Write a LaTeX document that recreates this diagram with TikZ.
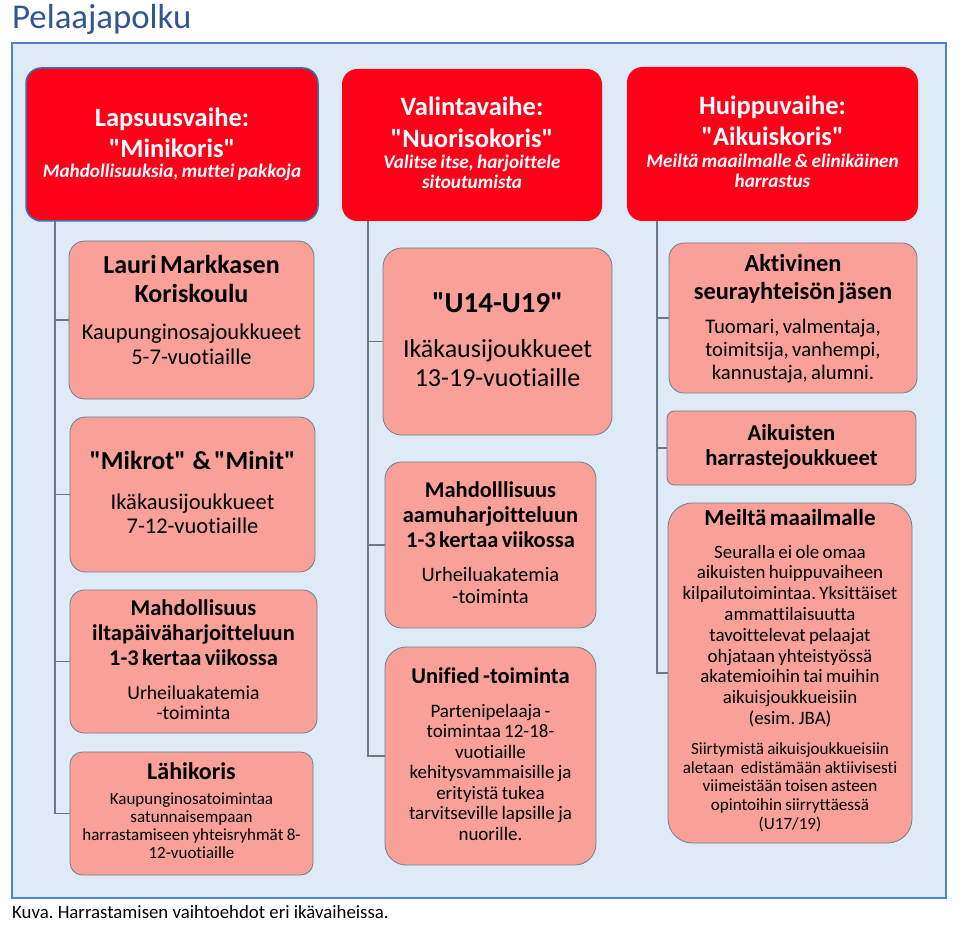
\documentclass[tikz,border=0pt]{standalone}
\usepackage{fontspec}
\setmainfont{Carlito}[Ligatures={TeXOff,NoCommon}]
\usetikzlibrary{fit}
\definecolor{framefill}{HTML}{DEEBF7}
\definecolor{frameline}{HTML}{4A86C8}
\definecolor{headred}{HTML}{FF0019}
\definecolor{headline}{HTML}{2E75B6}
\definecolor{salmon}{HTML}{F9A199}
\definecolor{boxline}{HTML}{6E7F90}
\definecolor{connline}{HTML}{6B7888}
\definecolor{titleblue}{HTML}{2F5597}
\lineskiplimit=-100pt
\frenchspacing
\newcommand\pfs[2]{\fontsize{#1}{#2}\selectfont}
\newcommand\pst[1]{\rule{0pt}{#1pt}}
\tikzset{
  frame/.style={fill=framefill, draw=frameline, line width=1.5pt, inner sep=0pt},
  headbox/.style={fill=headred, draw=none, inner sep=0pt},
  subbox/.style={fill=salmon, draw=boxline, line width=0.8pt, inner sep=0pt},
  txt/.style={text width=320pt, align=center, inner sep=0pt, anchor=north},
  headtxt/.style={txt, text=white},
  conn/.style={draw=connline, line width=1.2pt}
}
\begin{document}
\frenchspacing
\begin{tikzpicture}[x=1pt,y=-1pt]
\useasboundingbox (0,0) rectangle (963,933);
% title and frame
\node[anchor=base west, inner sep=0pt, text=titleblue, font=\pfs{34.8}{40}] (title) at (12,29) {Pelaajapolku};
\node[frame, fit={(12,43) (946,898)}] (frame) {};
\node[anchor=base west, inner sep=0pt, font=\pfs{18.8}{22}] (caption) at (12,918) {Kuva. Harrastamisen vaihtoehdot eri ikävaiheissa.};

% headers
\node[headbox, rounded corners=15.3pt, draw=headline, line width=1.5pt, fit={(26,68) (318,221)}] (H1) {};
\node[headbox, rounded corners=15.3pt, fit={(342,69) (602,221)}] (H2) {};
\node[headbox, rounded corners=15.4pt, fit={(627,67) (918,221)}] (H3) {};

\node[headtxt] (H1t) at (172,100) {\pfs{26.5}{31}\bfseries\pst{26.5}Lapsuusvaihe:\\"Minikoris"\par\pfs{19.2}{20}\itshape Mahdollisuuksia, muttei pakkoja\par};
\node[headtxt] (H2t) at (472,88.5) {\pfs{26.5}{32}\bfseries\pst{26.5}Valintavaihe:\\"Nuorisokoris"\par\vspace{1pt}\pfs{19.2}{20}\itshape Valitse itse, harjoittele\\sitoutumista\par};
\node[headtxt] (H3t) at (772.5,88) {\pfs{26.5}{31}\bfseries\pst{26.5}Huippuvaihe:\\"Aikuiskoris"\par\vspace{2pt}\pfs{19.2}{20}\itshape Meiltä maailmalle \& elinikäinen\\harrastus\par};

% column 1
\node[subbox, rounded corners=15.8pt, fit={(69,241) (314,399)}] (A) {};
\node[subbox, rounded corners=15.5pt, fit={(70,417) (315,572)}] (B) {};
\node[subbox, rounded corners=14.3pt, fit={(70,590) (317,733)}] (C) {};
\node[subbox, rounded corners=12.3pt, fit={(70,752) (313,875)}] (D) {};

\node[txt] (At) at (191.5,247) {\pfs{26}{29}\bfseries\pst{26}Lauri Markkasen\\Koriskoulu\par\vspace{12pt}\pfs{22.5}{25}\mdseries Kaupunginosajoukkueet\\5-7-vuotiaille\par};
\node[txt] (Bt) at (192.5,443) {\pfs{26}{29}\bfseries\pst{26}"Mikrot"\ \ \& "Minit"\par\vspace{16pt}\pfs{22.5}{24}\mdseries Ikäkausijoukkueet\\7-12-vuotiaille\par};
\node[txt] (Ct) at (193.5,592.5) {\pfs{22.5}{25}\bfseries\pst{22.5}Mahdollisuus\\iltapäiväharjoitteluun\\1-3 kertaa viikossa\par\vspace{14pt}\pfs{19.7}{20}\mdseries Urheiluakatemia\\-toiminta\par};
\node[txt] (Dt) at (191.5,755) {\pfs{24}{27}\bfseries\pst{24}Lähikoris\par\vspace{7pt}\pfs{17}{18}\mdseries Kaupunginosatoimintaa\\satunnaisempaan\\harrastamiseen yhteisryhmät 8-\\12-vuotiaille\par};

% column 2
\node[subbox, rounded corners=18.7pt, fit={(383,248) (612,435)}] (E) {};
\node[subbox, rounded corners=16.6pt, fit={(385,462) (596,628)}] (F) {};
\node[subbox, rounded corners=21.1pt, fit={(385,647) (596,865)}] (G) {};

\node[txt] (Et) at (497.5,283) {\pfs{29}{32}\bfseries\pst{29}"U14-U19"\par\vspace{16pt}\pfs{26}{29}\mdseries Ikäkausijoukkueet\\13-19-vuotiaille\par};
\node[txt] (Ft) at (490.5,474.5) {\pfs{22.5}{25}\bfseries\pst{22.5}Mahdolllisuus\\aamuharjoitteluun\\1-3 kertaa viikossa\par\vspace{12pt}\pfs{20.5}{22}\mdseries Urheiluakatemia\\-toiminta\par};
\node[txt] (Gt) at (490.5,660.5) {\pfs{22.5}{25}\bfseries\pst{22.5}Unified -toiminta\par\vspace{13.5pt}\pfs{19}{20.5}\mdseries Partenipelaaja -\\toimintaa 12-18-\\vuotiaille\\kehitysvammaisille ja\\erityistä tukea\\tarvitseville lapsille ja\\nuorille.\par};

% column 3
\node[subbox, rounded corners=15pt, fit={(669,243) (917,393)}] (H) {};
\node[subbox, rounded corners=7.4pt, fit={(667,411) (916,485)}] (I) {};
\node[subbox, rounded corners=24.4pt, fit={(668,503) (912,843)}] (J) {};

\node[txt] (Ht) at (793,246.6) {\pfs{24.4}{28}\bfseries\pst{24.4}Aktivinen\\seurayhteisön jäsen\par\vspace{11pt}\pfs{20.7}{23}\mdseries Tuomari, valmentaja,\\toimitsija, vanhempi,\\kannustaja, alumni.\par};
\node[txt] (It) at (791.5,417.3) {\pfs{22.7}{25}\bfseries\pst{22.7}Aikuisten\\harrastejoukkueet\par};
\node[txt] (Jt) at (790,502) {\pfs{23}{26}\bfseries\pst{23}Meiltä maailmalle\par\vspace{12pt}\pfs{18.9}{20.8}\mdseries Seuralla ei ole omaa\\aikuisten huippuvaiheen\\kilpailutoimintaa. Yksittäiset\\ammattilaisuutta\\tavoittelevat pelaajat\\ohjataan yhteistyössä\\akatemioihin tai muihin\\aikuisjoukkueisiin\\(esim. JBA)\par\vspace{11.3pt}\pfs{17.1}{18.7}Siirtymistä aikuisjoukkueisiin\\aletaan\ \ edistämään aktiivisesti\\viimeistään toisen asteen\\opintoihin siirryttäessä\\(U17/19)\par};

% connectors
\coordinate (v1) at (55,221);
\coordinate (v2) at (368,221);
\coordinate (v3) at (657,221);
\draw[conn] (v1) |- (D.west);
\draw[conn] (A.west) -- (A.west -| v1);
\draw[conn] (B.west) -- (B.west -| v1);
\draw[conn] (C.west) -- (C.west -| v1);
\draw[conn] (v2) |- (G.west);
\draw[conn] (E.west) -- (E.west -| v2);
\draw[conn] (F.west) -- (F.west -| v2);
\draw[conn] (v3) |- (J.west);
\draw[conn] (H.west) -- (H.west -| v3);
\draw[conn] (I.west) -- (I.west -| v3);
\end{tikzpicture}
\end{document}
